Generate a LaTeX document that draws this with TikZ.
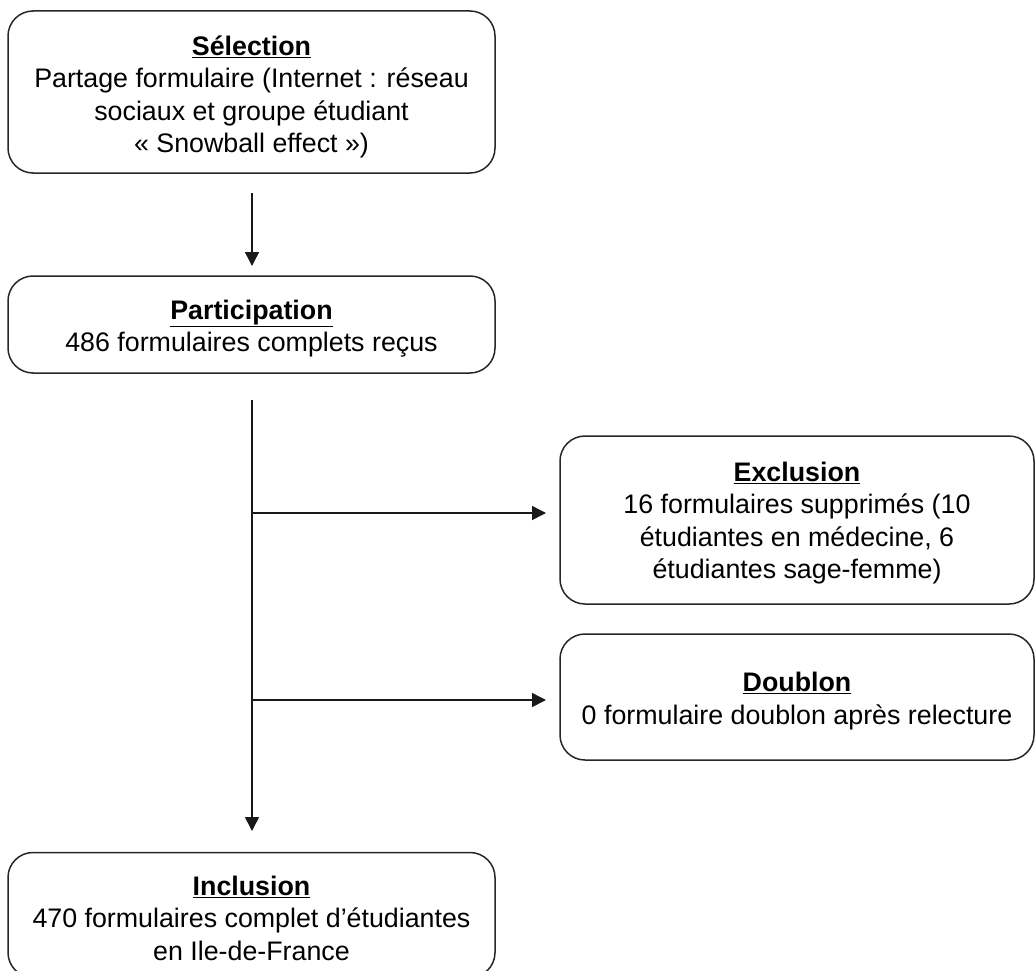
\documentclass[tikz,border=0pt]{standalone}
\usepackage{fontspec}
\setmainfont{Liberation Sans}
\usetikzlibrary{arrows.meta}
\begin{document}
\begin{tikzpicture}[x=1pt,y=-1pt,
  box/.style={draw=black!85, line width=1.5pt, rounded corners=25pt, inner sep=0pt},
  txt/.style={align=center, inner sep=0pt, font=\fontsize{26.8}{32.5}\selectfont},
  conn/.style={line width=1.5pt, draw=black!90, -{Triangle[length=14pt,width=14pt]}}]
\useasboundingbox (0,0) rectangle (1036,971);
\node[box, minimum width=487pt, minimum height=162pt] (sel) at (251.5,92) {};
\node[txt] (selt) at ([yshift=-5pt]sel.center)
  {\underline{\textbf{Sélection}}\\Partage formulaire (Internet : réseau\\sociaux et groupe étudiant\\« Snowball effect »)};
\node[box, minimum width=487pt, minimum height=97pt] (part) at (251.5,324.5) {};
\node[txt] (partt) at ([yshift=-4pt]part.center)
  {\underline{\textbf{Participation}}\\486 formulaires complets reçus};
\node[box, minimum width=474pt, minimum height=168pt] (excl) at (797,520) {};
\node[txt] (exclt) at ([yshift=-3pt]excl.center)
  {\underline{\textbf{Exclusion}}\\16 formulaires supprimés (10\\étudiantes en médecine, 6\\étudiantes sage-femme)};
\node[box, minimum width=474pt, minimum height=126pt] (doub) at (797,697) {};
\node[txt] (doubt) at ([yshift=-4pt]doub.center)
  {\underline{\textbf{Doublon}}\\0 formulaire doublon après relecture};
\node[box, minimum width=487pt, minimum height=125pt] (incl) at (251.5,915) {};
\node[txt] (inclt) at ([yshift=-3pt]incl.center)
  {\underline{\textbf{Inclusion}}\\470 formulaires complet d’étudiantes\\en Ile-de-France};
\coordinate (a1s) at (252,193);
\coordinate (a1e) at (252,266);
\coordinate (vs) at (252,400);
\coordinate (ve) at (252,831);
\coordinate (j1) at (252,513);
\coordinate (j2) at (252,700);
\coordinate (e1) at (546,513);
\coordinate (e2) at (546,700);
\draw[conn] (a1s) -- (a1e);
\draw[conn] (vs) -- (ve);
\draw[conn] (j1) -- (e1);
\draw[conn] (j2) -- (e2);
\end{tikzpicture}
\end{document}
